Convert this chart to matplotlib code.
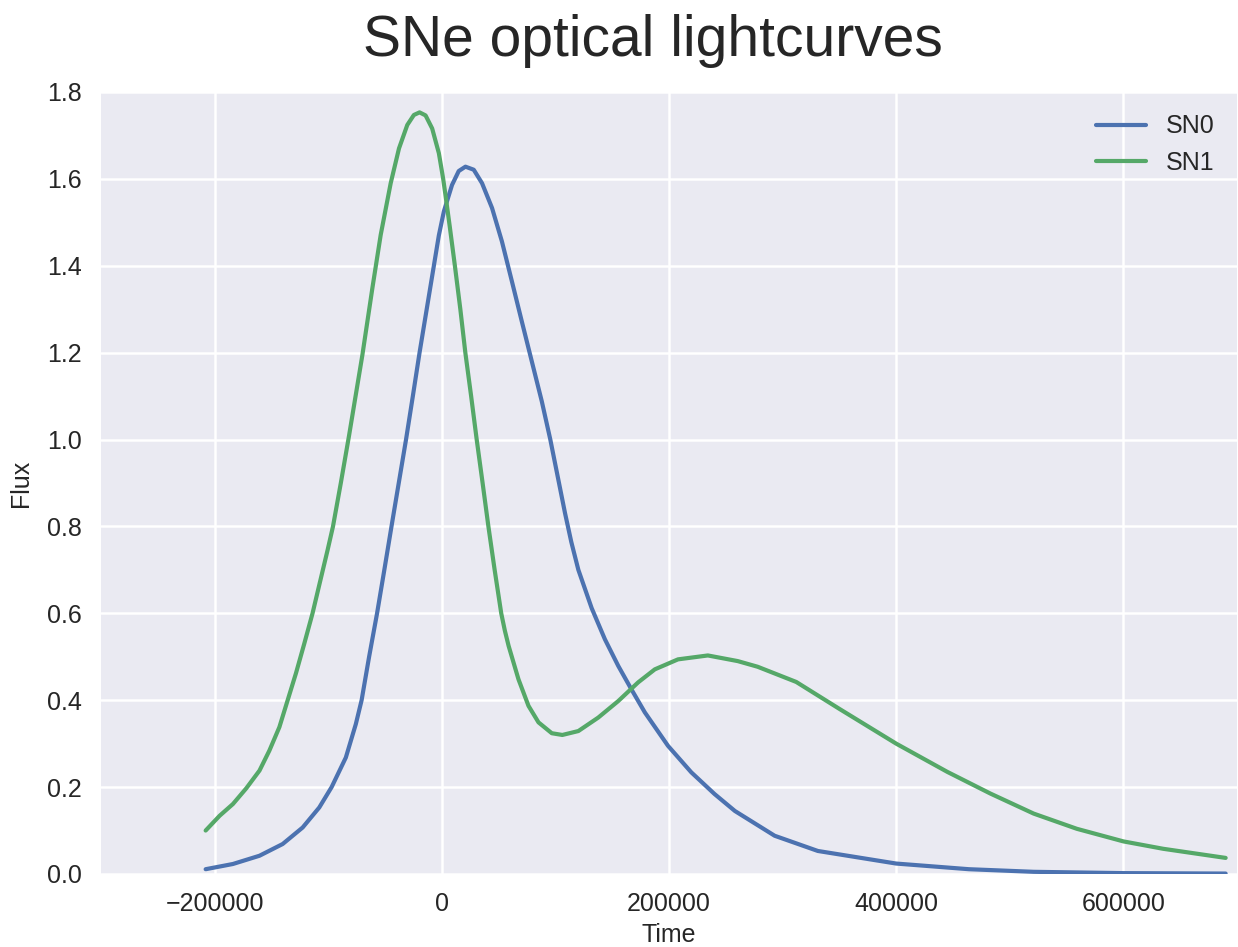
import matplotlib
matplotlib.use("Agg")
import matplotlib.pyplot as plt

sn0_time = [-207900, -183900, -160500, -140100, -122500, -107900, -97000, -84500,
            -75700, -70600, -64000, -57000, -50600, -44300, -37900, -31500, -25500,
            -19600, -13300, -7000, -2600, 1800, 9000, 14900, 20800, 28100, 35400,
            44200, 52900, 61700, 70400, 79200, 88000, 95500, 102000, 108500, 114000,
            120200, 131900, 143600, 155300, 166900, 178700, 199100, 219600, 240100,
            258000, 293000, 331000, 400000, 464000, 521000, 600000, 690000]
sn0_flux = [0.011, 0.023, 0.042, 0.069, 0.107, 0.153, 0.200, 0.268,
            0.345, 0.400, 0.500, 0.600, 0.700, 0.800, 0.900, 1.000, 1.100,
            1.200, 1.300, 1.400, 1.470, 1.525, 1.586, 1.618, 1.628, 1.621, 1.590,
            1.533, 1.456, 1.364, 1.272, 1.180, 1.088, 1.000, 0.915, 0.830, 0.764,
            0.700, 0.612, 0.540, 0.479, 0.425, 0.372, 0.295, 0.234, 0.184,
            0.145, 0.088, 0.053, 0.024, 0.011, 0.005, 0.002, 0.001]

sn1_time = [-207900, -195600, -183900, -172200, -160500, -151800, -143000, -135700,
            -128400, -121100, -113800, -107900, -100600, -95800, -88900, -81600,
            -69900, -61100, -53800, -45000, -37700, -30400, -24600, -19600, -14300,
            -8500, -2600, 1200, 3200, 7000, 11500, 16300, 20700, 25800, 30700,
            35900, 41000, 46500, 52300, 55500, 58800, 67500, 76300, 85100, 96800,
            106100, 120200, 137700, 155300, 172800, 187500, 207900, 234200, 260500,
            278000, 312000, 350000, 400000, 445000, 483000, 521000, 559000, 600000,
            635000, 690000]
sn1_flux = [0.100, 0.134, 0.161, 0.197, 0.238, 0.284, 0.338, 0.400,
            0.462, 0.530, 0.600, 0.665, 0.745, 0.800, 0.900, 1.010,
            1.195, 1.349, 1.471, 1.590, 1.670, 1.724, 1.747, 1.753, 1.746,
            1.716, 1.659, 1.600, 1.563, 1.490, 1.400, 1.300, 1.200, 1.100, 1.000,
            0.900, 0.800, 0.700, 0.600, 0.560, 0.525, 0.448, 0.387, 0.349, 0.324,
            0.320, 0.329, 0.360, 0.398, 0.441, 0.471, 0.494, 0.503, 0.490,
            0.477, 0.442, 0.380, 0.300, 0.235, 0.185, 0.139, 0.104, 0.075,
            0.058, 0.037]

labels = ["SN0", "SN1"]

plt.style.use("seaborn-v0_8-darkgrid")
plt.rcParams['font.family'] = ['Liberation Sans', 'DejaVu Sans']
plt.rcParams['text.color'] = '.15'
plt.rcParams['axes.labelcolor'] = '.15'
plt.rcParams['xtick.color'] = '.15'
plt.rcParams['ytick.color'] = '.15'

fig = plt.figure(figsize=(12.38, 9.47), dpi=100)
ax = fig.add_axes([0.0816, 0.0771, 0.9176, 0.8258])

ax.plot(sn0_time, sn0_flux, color="#4C72B0", lw=3, label=labels[0])
ax.plot(sn1_time, sn1_flux, color="#55A868", lw=3, label=labels[1])

ax.set_xlim(-300000, 700000)
ax.set_ylim(0, 1.8)
ax.set_xticks([-200000, 0, 200000, 400000, 600000])
ax.set_yticks([0.0, 0.2, 0.4, 0.6, 0.8, 1.0, 1.2, 1.4, 1.6, 1.8])
ax.tick_params(labelsize=18, length=0)
ax.tick_params(axis='x', pad=13)
ax.tick_params(axis='y', pad=14)
ax.grid(color='white', lw=1.8)

ax.set_xlabel("Time", fontsize=18, labelpad=5)
ax.set_ylabel("Flux", fontsize=18, labelpad=10)
fig.text(0.5275, 0.941, "SNe optical lightcurves", fontsize=41, ha='center', va='baseline')

ax.legend(loc='upper right', fontsize=18, frameon=False, handlelength=2.0)

fig.savefig("out.png", dpi=100)
